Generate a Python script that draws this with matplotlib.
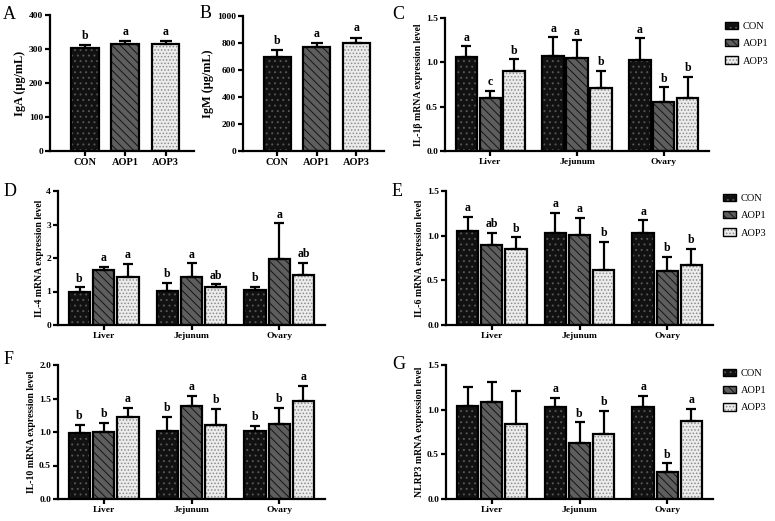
import numpy as np
import matplotlib
matplotlib.use('Agg')
import matplotlib.pyplot as plt
from matplotlib.patches import Patch

plt.rcParams['font.family'] = ['Liberation Serif', 'DejaVu Serif']
plt.rcParams['hatch.linewidth'] = 0.7

# ---- data ----
groups = ['CON', 'AOP1', 'AOP3']
tissues = ['Liver', 'Jejunum', 'Ovary']

iga_mean = [302, 314, 316]
iga_sd = [10, 10, 8]
iga_sig = ['b', 'a', 'a']

igm_mean = [698, 767, 802]
igm_sd = [50, 30, 37]
igm_sig = ['b', 'a', 'a']

# per group: values for Liver, Jejunum, Ovary
il1b_mean = {'CON': [1.065, 1.073, 1.024], 'AOP1': [0.593, 1.046, 0.555], 'AOP3': [0.903, 0.714, 0.600]}
il1b_sd = {'CON': [0.115, 0.212, 0.249], 'AOP1': [0.087, 0.201, 0.163], 'AOP3': [0.132, 0.193, 0.239]}
il1b_sig = {'CON': ['a', 'a', 'a'], 'AOP1': ['c', 'a', 'b'], 'AOP3': ['b', 'b', 'b']}

il4_mean = {'CON': [0.99, 1.02, 1.04], 'AOP1': [1.64, 1.42, 1.985], 'AOP3': [1.42, 1.12, 1.49]}
il4_sd = {'CON': [0.13, 0.24, 0.10], 'AOP1': [0.10, 0.42, 1.045], 'AOP3': [0.40, 0.10, 0.37]}
il4_sig = {'CON': ['b', 'b', 'b'], 'AOP1': ['a', 'a', 'a'], 'AOP3': ['a', 'ab', 'ab']}

il6_mean = {'CON': [1.05, 1.031, 1.031], 'AOP1': [0.893, 1.012, 0.603], 'AOP3': [0.856, 0.62, 0.67]}
il6_sd = {'CON': [0.16, 0.227, 0.141], 'AOP1': [0.137, 0.19, 0.16], 'AOP3': [0.124, 0.31, 0.186]}
il6_sig = {'CON': ['a', 'a', 'a'], 'AOP1': ['ab', 'a', 'b'], 'AOP3': ['b', 'b', 'b']}

il10_mean = {'CON': [0.99, 1.015, 1.015], 'AOP1': [0.995, 1.388, 1.124], 'AOP3': [1.22, 1.104, 1.468]}
il10_sd = {'CON': [0.115, 0.215, 0.079], 'AOP1': [0.145, 0.154, 0.239], 'AOP3': [0.143, 0.239, 0.219]}
il10_sig = {'CON': ['b', 'b', 'b'], 'AOP1': ['b', 'a', 'b'], 'AOP3': ['a', 'b', 'a']}

nlrp3_mean = {'CON': [1.04, 1.034, 1.026], 'AOP1': [1.09, 0.623, 0.30], 'AOP3': [0.84, 0.728, 0.877]}
nlrp3_sd = {'CON': [0.217, 0.10, 0.131], 'AOP1': [0.223, 0.235, 0.10], 'AOP3': [0.373, 0.257, 0.13]}
nlrp3_sig = {'CON': ['', 'a', 'a'], 'AOP1': ['', 'b', 'b'], 'AOP3': ['', 'b', 'a']}

# ---- styles ----
styles = {
    'CON': dict(fc='#111111', hc='#555555', hatch='...'),
    'AOP1': dict(fc='#5e5e5e', hc='#151515', hatch='\\\\\\\\'),
    'AOP3': dict(fc='#ececec', hc='#8c8c8c', hatch='.....'),
}
LW = 1.6
W, H = 775, 521
fig = plt.figure(figsize=(W / 100, H / 100), dpi=100)
fig.set_facecolor('white')


def px_axes(l, t, r, b):
    return fig.add_axes([l / W, 1 - b / H, (r - l) / W, (b - t) / H])


def draw_bars(ax, x, h, width, g):
    s = styles[g]
    ax.bar(x, h, width, color=s['fc'], edgecolor=s['hc'], hatch=s['hatch'], linewidth=0, zorder=2)
    ax.bar(x, h, width, fill=False, edgecolor='black', linewidth=LW, zorder=3)


def style_axes(ax, ymax, step, ylabel, fmt, ysize=7):
    ax.set_ylim(0, ymax)
    ticks = np.arange(0, ymax + step / 2, step)
    ax.set_yticks(ticks)
    ax.set_yticklabels([fmt.format(t) for t in ticks], fontsize=6.8, fontweight='bold')
    for sp in ['top', 'right']:
        ax.spines[sp].set_visible(False)
    for sp in ['left', 'bottom']:
        ax.spines[sp].set_linewidth(LW)
    ax.tick_params(axis='both', direction='out', width=LW, length=3.5, pad=1.5)
    ax.set_ylabel(ylabel, fontsize=ysize, fontweight='bold', labelpad=2)


def letters(ax, x, top, labels, off):
    for xi, ti, lab in zip(x, top, labels):
        if lab:
            ax.annotate(lab, (xi, ti), xytext=(0, off), textcoords='offset points',
                        ha='center', va='baseline', fontsize=8.5, fontweight='bold')


def single_panel(ax, means, sds, sig, ymax, step, ylabel):
    x = np.arange(len(groups))
    for i, g in enumerate(groups):
        draw_bars(ax, x[i], means[i], 0.68, g)
    ax.errorbar(x, means, yerr=[np.zeros(len(sds)), sds], fmt='none', ecolor='black',
                elinewidth=LW, capsize=4, capthick=LW, zorder=4)
    letters(ax, x, np.array(means) + np.array(sds), sig, 4.5)
    ax.set_xlim(-0.86, 2.7)
    ax.set_xticks(x)
    ax.set_xticklabels(groups, fontsize=7.5, fontweight='bold')
    style_axes(ax, ymax, step, ylabel, '{:.0f}', ysize=8.8)


def grouped_panel(ax, means, sds, sig, ymax, step, ylabel, fmt='{:.1f}', legend_xy=None):
    x = np.arange(len(tissues))
    off, width = 0.275, 0.245
    for j, g in enumerate(groups):
        xs = x + (j - 1) * off
        draw_bars(ax, xs, means[g], width, g)
        ax.errorbar(xs, means[g], yerr=[np.zeros(3), sds[g]], fmt='none', ecolor='black',
                    elinewidth=LW, capsize=3.5, capthick=LW, zorder=4)
        letters(ax, xs, np.array(means[g]) + np.array(sds[g]), sig[g], 4)
    ax.set_xlim(-0.52, 2.52)
    ax.set_xticks(x)
    ax.set_xticklabels(tissues, fontsize=6.8, fontweight='bold')
    style_axes(ax, ymax, step, ylabel, fmt)
    if legend_xy is not None:
        handles = []
        for g in groups:
            s = styles[g]
            handles.append((Patch(facecolor=s['fc'], edgecolor=s['hc'], hatch=s['hatch'], linewidth=0),
                            Patch(fill=False, edgecolor='black', linewidth=1.0)))
        ax.legend(handles, groups, loc='upper left', bbox_to_anchor=legend_xy,
                  bbox_transform=fig.transFigure, frameon=False, fontsize=7.5,
                  handlelength=1.25, handleheight=0.7, labelspacing=0.75, handletextpad=0.45,
                  borderpad=0, borderaxespad=0)


axA = px_axes(50, 15, 194, 151)
single_panel(axA, iga_mean, iga_sd, iga_sig, 400, 100, 'IgA (μg/mL)')
axB = px_axes(243, 16, 384, 151)
single_panel(axB, igm_mean, igm_sd, igm_sig, 1000, 200, 'IgM (μg/mL)')

axC = px_axes(445, 18, 709, 151)
grouped_panel(axC, il1b_mean, il1b_sd, il1b_sig, 1.5, 0.5, 'IL-1β mRNA expression level',
              legend_xy=(725 / W, 1 - 22 / H))
axD = px_axes(58, 191, 325, 325)
grouped_panel(axD, il4_mean, il4_sd, il4_sig, 4, 1, 'IL-4 mRNA expression level', fmt='{:.0f}')
axE = px_axes(446, 191, 713, 325)
grouped_panel(axE, il6_mean, il6_sd, il6_sig, 1.5, 0.5, 'IL-6 mRNA expression level',
              legend_xy=(723 / W, 1 - 194 / H))
axF = px_axes(58, 365, 325, 499)
grouped_panel(axF, il10_mean, il10_sd, il10_sig, 2.0, 0.5, 'IL-10 mRNA expression level')
axG = px_axes(446, 365, 713, 499)
grouped_panel(axG, nlrp3_mean, nlrp3_sd, nlrp3_sig, 1.5, 0.5, 'NLRP3 mRNA expression level',
              legend_xy=(723 / W, 1 - 369 / H))

# panel letters
for lab, px, py in [('A', 3, 19), ('B', 200, 18), ('C', 392, 19), ('D', 4, 196),
                    ('E', 392, 196), ('F', 4, 364), ('G', 392, 369)]:
    fig.text(px / W, 1 - py / H, lab, fontsize=13, ha='left', va='baseline')

plt.savefig('out.png', dpi=100)
